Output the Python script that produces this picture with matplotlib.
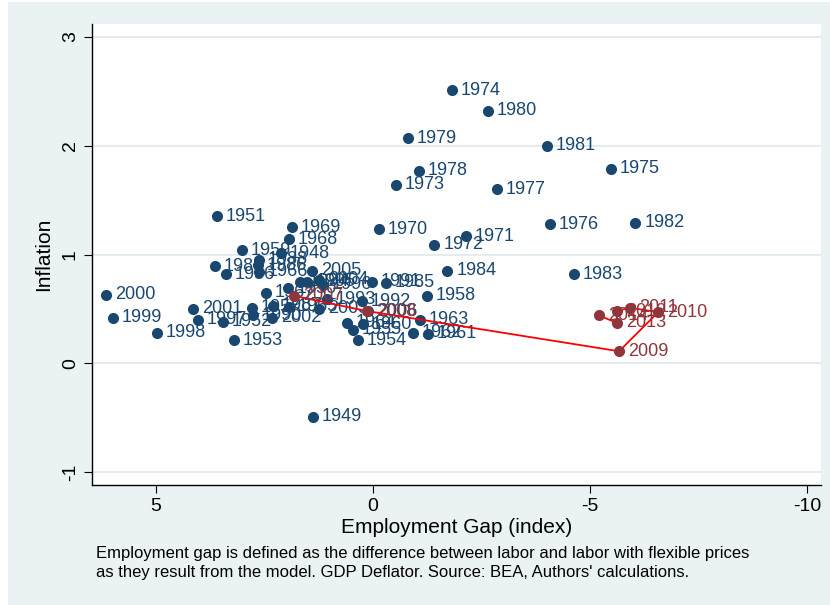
import matplotlib.pyplot as plt
from matplotlib.patches import Rectangle
from matplotlib import font_manager

# employment gap (x) and inflation (y), 1948-2006
years = [1948, 1949, 1950, 1951, 1952, 1953, 1954, 1955, 1956, 1957,
         1958, 1959, 1960, 1961, 1962, 1963, 1964, 1965, 1966, 1967,
         1968, 1969, 1970, 1971, 1972, 1973, 1974, 1975, 1976, 1977,
         1978, 1979, 1980, 1981, 1982, 1983, 1984, 1985, 1986, 1987,
         1988, 1989, 1990, 1991, 1992, 1993, 1994, 1995, 1996, 1997,
         1998, 1999, 2000, 2001, 2002, 2003, 2004, 2005, 2006]
gap = [2.12, 1.38, 1.96, 3.59, 3.46, 3.20, 0.35, 0.46, 3.39, 2.79,
       -1.24, 3.02, 0.23, -1.27, -0.92, -1.08, 0.60, 1.94, 2.63, 2.47,
       1.94, 1.87, -0.14, -2.14, -1.41, -0.53, -1.82, -5.48, -4.08, -2.86,
       -1.06, -0.81, -2.65, -4.01, -6.04, -4.63, -1.71, -0.30, 2.65, 2.30,
       2.63, 3.64, 2.76, 0.02, 0.25, 1.06, 1.68, 1.52, 1.15, 4.03,
       4.98, 5.99, 6.15, 4.15, 2.33, 1.24, 1.24, 1.41, 0.12]
infl = [1.01, -0.49, 0.69, 1.35, 0.38, 0.21, 0.21, 0.31, 0.82, 0.51,
        0.62, 1.04, 0.36, 0.27, 0.28, 0.40, 0.37, 0.52, 0.84, 0.65,
        1.14, 1.25, 1.23, 1.17, 1.09, 1.64, 2.51, 1.79, 1.28, 1.60,
        1.77, 2.07, 2.32, 2.00, 1.29, 0.82, 0.85, 0.74, 0.90, 0.53,
        0.95, 0.89, 0.44, 0.75, 0.57, 0.59, 0.75, 0.75, 0.72, 0.40,
        0.28, 0.42, 0.63, 0.50, 0.42, 0.50, 0.77, 0.85, 0.48]

# crisis years, joined by a line
years_r = [2007, 2008, 2009, 2010, 2011, 2012, 2013, 2014]
gap_r = [1.82, 0.14, -5.67, -6.57, -5.92, -5.62, -5.62, -5.21]
infl_r = [0.62, 0.48, 0.11, 0.47, 0.51, 0.48, 0.37, 0.44]

xticks = [5, 0, -5, -10]
yticks = [-1, 0, 1, 2, 3]

names = {f.name for f in font_manager.fontManager.ttflist}
fam = 'Liberation Sans Narrow' if 'Liberation Sans Narrow' in names else 'Liberation Sans'
plt.rcParams['font.family'] = [fam, 'DejaVu Sans']
plt.rcParams['axes.unicode_minus'] = False

navy = '#1a476f'
maroon = '#90353b'
bg = '#eaf2f3'

fig = plt.figure(figsize=(8.3, 6.05), dpi=100, facecolor='white')
fig.patches.append(Rectangle((8 / 830, 0), 1, 603 / 605, transform=fig.transFigure,
                             facecolor=bg, edgecolor='none', zorder=-10))
ax = fig.add_axes([92 / 830, 1 - 485 / 605, 729 / 830, 461 / 605])
ax.set_zorder(1)
ax.set_facecolor('white')

ax.set_xlim(6.47, -10.32)
ax.set_ylim(-1.12, 3.12)
ax.set_xticks(xticks)
ax.set_yticks(yticks)
ax.grid(axis='y', color='#e2ebee', linewidth=1.3)
ax.set_axisbelow(True)
for s in ['top', 'right']:
    ax.spines[s].set_visible(False)
for s in ['left', 'bottom']:
    ax.spines[s].set_linewidth(1.0)
ax.tick_params(axis='both', length=6, width=0.8, labelsize=14)
ax.tick_params(axis='y', labelrotation=90)
for t in ax.get_yticklabels():
    t.set_va('center')

ax.scatter(gap, infl, s=64, color=navy, zorder=3, linewidths=0)
for yr, x, y in zip(years, gap, infl):
    ax.annotate(str(yr), (x, y), xytext=(6.5, 0), textcoords='offset points',
                ha='left', va='center', fontsize=13, color=navy, zorder=4)

ax.plot(gap_r, infl_r, color='red', linewidth=1.3, zorder=5)
ax.scatter(gap_r, infl_r, s=64, color=maroon, zorder=6, linewidths=0)
for yr, x, y in zip(years_r, gap_r, infl_r):
    ax.annotate(str(yr), (x, y), xytext=(6.5, 0), textcoords='offset points',
                ha='left', va='center', fontsize=13, color=maroon, zorder=7)

ax.set_xlabel('Employment Gap (index)', fontsize=15, labelpad=2)
ax.set_ylabel('Inflation', fontsize=15, labelpad=6)

fig.text(96 / 830, 1 - 546 / 605,
         'Employment gap is defined as the difference between labor and labor with flexible prices\n'
         'as they result from the model. GDP Deflator. Source: BEA, Authors\' calculations.',
         ha='left', va='top', fontsize=12, linespacing=1.3)

fig.savefig('out.png', dpi=100, facecolor=fig.get_facecolor())
